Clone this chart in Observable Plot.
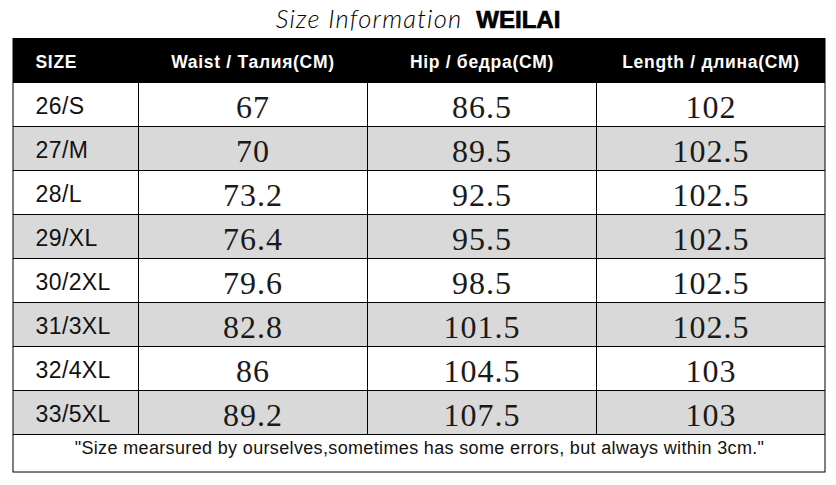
<!DOCTYPE html>
<html>
<head>
<meta charset="utf-8">
<script src="https://cdn.jsdelivr.net/npm/d3@7"></script>
<script src="https://cdn.jsdelivr.net/npm/@observablehq/plot@0.6"></script>
<style>
  body { margin: 0; background: #fff; }
  #title { height: 38px; line-height: 36px; text-align: center; white-space: nowrap; color: #000; }
  #title .script { font-family: Lato, "DejaVu Sans", sans-serif; font-style: italic; font-weight: 300; font-size: 25.5px; letter-spacing: 1.2px; }
  #title .brand { font-family: "Liberation Sans", Arial, sans-serif; font-weight: 900; font-size: 24px; margin-left: 14px; -webkit-text-stroke: 0.7px #000; }
  text[aria-label="values"] { letter-spacing: 1px; }
  text[aria-label="headers"] { letter-spacing: 0.7px; }
  text[aria-label="sizes"] { letter-spacing: 0.4px; }
  text[aria-label="note"] { letter-spacing: 0.35px; }
  svg { display: block; }
</style>
</head>
<body>
<div id="title"></div>
<div id="chart"></div>
<script>
// ---- data ----
const titleScript = "Size Information";
const titleBrand = "WEILAI";
const headers = ["SIZE", "Waist / Талия(CM)", "Hip / бедра(CM)", "Length / длина(CM)"];
const sizes = ["26/S", "27/M", "28/L", "29/XL", "30/2XL", "31/3XL", "32/4XL", "33/5XL"];
const waist = [67, 70, 73.2, 76.4, 79.6, 82.8, 86, 89.2];
const hip = [86.5, 89.5, 92.5, 95.5, 98.5, 101.5, 104.5, 107.5];
const lengthCm = [102, 102.5, 102.5, 102.5, 102.5, 102.5, 103, 103];
const note = "\"Size mearsured by ourselves,sometimes has some errors, but always within 3cm.\"";

// ---- layout (relative units) ----
const colWidths = [125, 229, 229, 229];
const footerRowHeight = 38 / 44;

const colEdges = [0];
colWidths.forEach(w => colEdges.push(colEdges[colEdges.length - 1] + w));
const totalW = colEdges[colEdges.length - 1];
const nRows = sizes.length;
const totalH = 1 + nRows + footerRowHeight;
const colCenter = j => (colEdges[j] + colEdges[j + 1]) / 2;
const leftPad = 22;

// title
const t = document.getElementById("title");
t.innerHTML = `<span class="script"></span><span class="brand"></span>`;
t.querySelector(".script").textContent = titleScript;
t.querySelector(".brand").textContent = titleBrand;

// table records built from the arrays
const rows = sizes.map((s, i) => ({row: i + 1, size: s, values: [waist[i], hip[i], lengthCm[i]]}));
const valueCells = rows.flatMap(r => r.values.map((v, k) => ({row: r.row, col: k + 1, text: String(v)})));
const headerCells = headers.map((h, j) => ({col: j, text: h}));
const innerRowEdges = d3.range(1, nRows + 2);
const innerColEdges = colEdges.slice(1, -1);

const sans = "Liberation Sans, Arial, sans-serif";

const chart = Plot.plot({
  width: 836,
  height: 447,
  margin: 0,
  x: {domain: [0, totalW], range: [13, 825], axis: null},
  y: {domain: [0, totalH], range: [0, 434], axis: null},
  marks: [
    // header band
    Plot.rect([0], {x1: () => 0, x2: () => totalW, y1: () => 0, y2: () => 1, fill: "#000"}),
    // zebra rows
    Plot.rect(rows.filter(r => r.row % 2 === 0), {x1: () => 0, x2: () => totalW, y1: r => r.row, y2: r => r.row + 1, fill: "#d9d9d9"}),
    // horizontal grid lines
    Plot.ruleY(innerRowEdges, {y: d => d, x1: () => 0, x2: () => totalW, stroke: "#000", strokeWidth: 1}),
    // vertical grid lines
    Plot.ruleX(innerColEdges, {x: d => d, y1: () => 1, y2: () => 1 + nRows, stroke: "#000", strokeWidth: 1}),
    // outer frame
    Plot.rect([0], {x1: () => 0, x2: () => totalW, y1: () => 0, y2: () => totalH, fill: "none", stroke: "#000", strokeWidth: 1}),
    // header texts
    Plot.text(headerCells.filter(d => d.col === 0), {x: d => colEdges[0] + leftPad, y: () => 0.5, text: "text", textAnchor: "start", fill: "#fff", fontFamily: sans, fontWeight: "bold", fontSize: 17.5, dy: 1.5, ariaLabel: () => "headers"}),
    Plot.text(headerCells.filter(d => d.col > 0), {x: d => colCenter(d.col), y: () => 0.5, text: "text", textAnchor: "middle", fill: "#fff", fontFamily: sans, fontWeight: "bold", fontSize: 17.5, dy: 1.5, ariaLabel: () => "headers"}),
    // size labels
    Plot.text(rows, {x: () => colEdges[0] + leftPad, y: r => r.row + 0.5, text: "size", textAnchor: "start", fill: "#111", fontFamily: sans, fontSize: 23, dy: 2, ariaLabel: () => "sizes"}),
    // values
    Plot.text(valueCells, {x: d => colCenter(d.col), y: d => d.row + 0.5, text: "text", textAnchor: "middle", fill: "#1a1a1a", fontFamily: "Liberation Serif, serif", fontSize: 32, dy: 3.6, ariaLabel: () => "values"}),
    // footer note
    Plot.text([note], {x: () => totalW / 2, y: () => 1 + nRows + footerRowHeight / 2, text: d => d, textAnchor: "middle", fill: "#111", fontFamily: sans, fontSize: 18, dy: -5, ariaLabel: () => "note"})
  ]
});
document.getElementById("chart").appendChild(chart);
</script>
</body>
</html>
